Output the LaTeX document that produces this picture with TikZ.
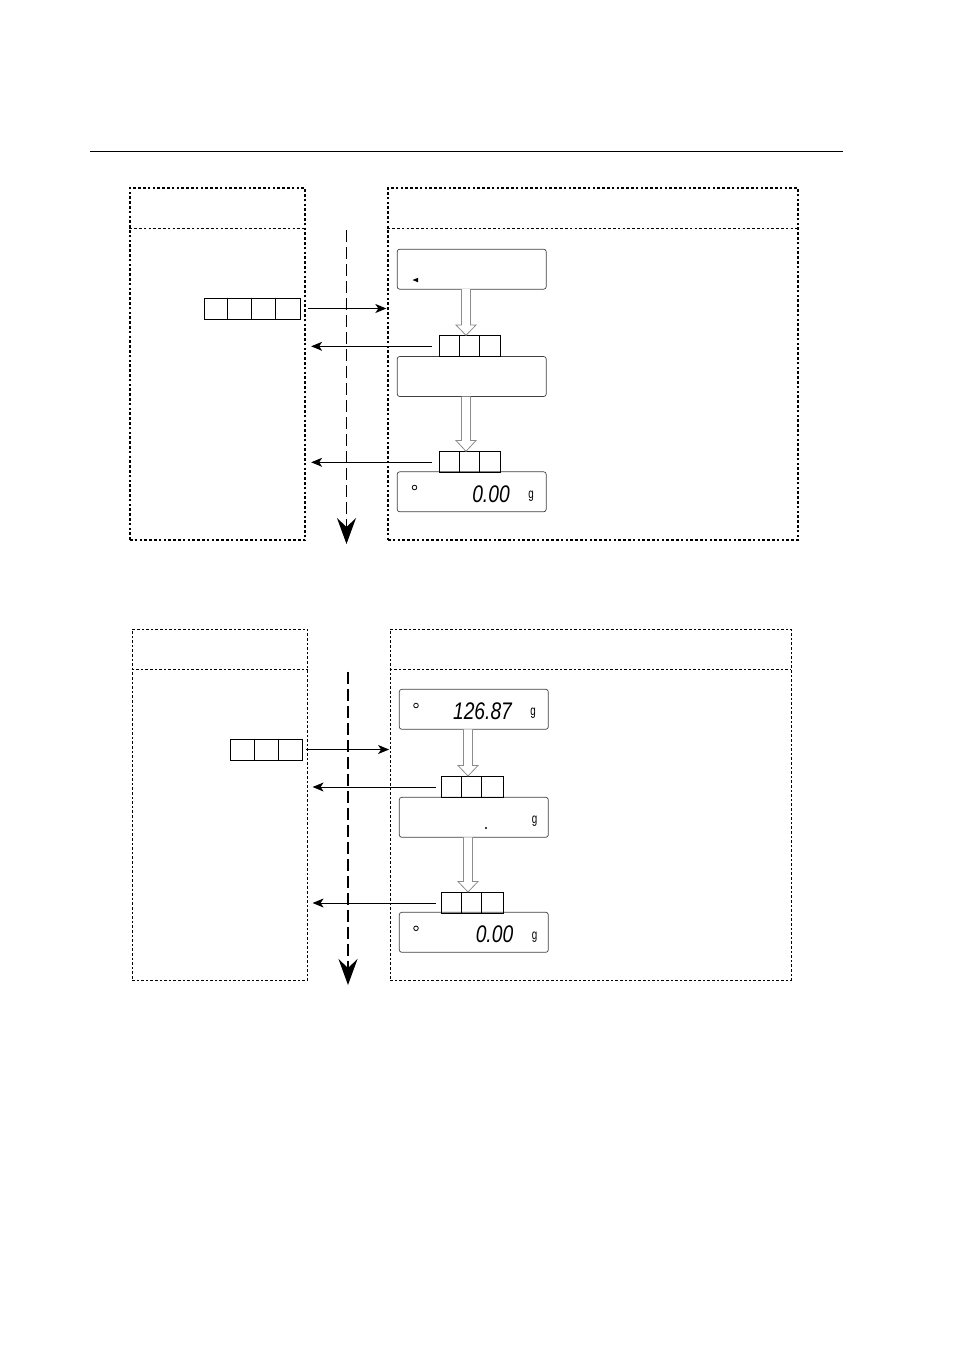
\documentclass[tikz,border=0pt]{standalone}
\usepackage{fontspec}
\newfontfamily\segfont{Liberation Sans}
\usetikzlibrary{arrows.meta,calc}
\tikzset{
  frametop/.style={draw, line width=1.3pt, dash pattern=on 2.6pt off 2.2pt, inner sep=0pt},
  framebot/.style={draw, line width=0.8pt, dash pattern=on 2.6pt off 2pt, inner sep=0pt},
  disp/.style={draw=black!75, rounded corners=2.5pt, line width=0.7pt, minimum width=149pt, minimum height=40pt, inner sep=0pt},
  keyframe/.style={draw, line width=1pt, inner sep=0pt, minimum height=21pt, anchor=north west},
  conn/.style={line width=1pt, -{Stealth[length=11pt,width=9pt,inset=3pt]}},
  flow/.style={line width=1.1pt, dash pattern=on 12pt off 5pt, -{Stealth[length=26pt,width=19pt,inset=9pt]}},
  hollow/.style={draw=black!45, fill=white, line width=0.8pt, line join=miter},
  seg/.style={font=\segfont\itshape\fontsize{24}{24}\selectfont, xscale=0.8, inner sep=0pt},
  unit/.style={font=\segfont\fontsize{14}{14}\selectfont, xscale=0.7, inner sep=0pt},
  lamp/.style={draw, line width=0.8pt},
}
\newcommand\keybox[5]{% name, left, top, width, divider offsets
  \node[keyframe, minimum width=#4pt] (#1) at (#2,#3) {};
  \foreach \d in {#5} \draw[line width=1pt] ($(#1.north west)+(\d,0)$) -- ($(#1.south west)+(\d,0)$);
}
\newcommand\hollowarr[4]{% x, top, bottom, head start
  \draw[hollow] (#1-4.5,#2) -- (#1-4.5,#4) -- (#1-10,#4) -- (#1,#3) -- (#1+10,#4) -- (#1+4.5,#4) -- (#1+4.5,#2);
}
\begin{document}
\begin{tikzpicture}[x=1pt,y=-1pt]
\useasboundingbox (0,0) rectangle (954,1350);
% header rule
\draw[line width=0.8pt] (90,151) -- (843,151);

% ================= top section =================
\node[frametop, minimum width=175pt, minimum height=352pt] (lt) at (217.5,364) {};
\node[frametop, minimum width=410pt, minimum height=352pt] (rt) at (593,364) {};
\draw[frametop] (lt.west |- 0,228.3) -- (lt.east |- 0,228.3);
\draw[frametop] (rt.west |- 0,228.3) -- (rt.east |- 0,228.3);
\coordinate (ft1) at (346.5,230);
\coordinate (ft2) at (346.5,544);
\draw[flow] (ft1) -- (ft2);

\node[disp] (d1) at (471.7,269.2) {};
\fill (412.5,280) -- (418,277.8) -- (418,282.2) -- cycle;
\node[disp] (d2) at (471.7,376.5) {};
\node[disp] (d3) at (471.7,491.8) {};
\draw[lamp] (414.5,487.5) circle (2.3);
\node[seg] (t3) at (491,494) {0.00};
\node[unit] (u3) at (531,496.5) {g};

\keybox{k1}{203.6}{297.5}{96.4}{24.1,48.2,72.3}
\keybox{k2}{438.6}{335.3}{61.6}{21,41}
\keybox{k3}{438.6}{451.3}{61.6}{21,41}

\hollowarr{466}{289}{335.3}{325}
\hollowarr{466}{396.5}{451.3}{440.5}

\draw[conn] ([xshift=6.8pt]k1.east) -- ([xshift=-1pt]k1.east -| rt.west);
\draw[conn] ([xshift=-7pt]k2.west) -- ([xshift=5.5pt]k2.west -| lt.east);
\draw[conn] ([xshift=-7pt]k3.west) -- ([xshift=5.5pt]k3.west -| lt.east);

% ================= bottom section =================
\node[framebot, minimum width=175.7pt, minimum height=350.7pt] (lb) at (219.85,804.65) {};
\node[framebot, minimum width=401pt, minimum height=350.7pt] (rb) at (590.5,804.65) {};
\draw[framebot] (lb.west |- 0,669.3) -- (lb.east |- 0,669.3);
\draw[framebot] (rb.west |- 0,669.3) -- (rb.east |- 0,669.3);
\coordinate (fb1) at (348,671.5);
\coordinate (fb2) at (348,985);
\draw[flow] (fb1) -- (fb2);

\node[disp] (dA) at (473.8,709.3) {};
\draw[lamp] (416,705.5) circle (2.3);
\node[seg] (tA) at (482.5,711) {126.87};
\node[unit] (uA) at (533,713.5) {g};
\node[disp] (dB) at (473.8,817.3) {};
\fill (486,828) circle (1.2);
\node[unit] (uB) at (534.5,821) {g};
\node[disp] (dC) at (473.8,932.3) {};
\draw[lamp] (416,928.3) circle (2.3);
\node[seg] (tC) at (494.5,934) {0.00};
\node[unit] (uC) at (534.5,937) {g};

\keybox{kb1}{229.5}{738.5}{72.8}{24.5,49}
\keybox{kb2}{440.8}{776}{62.2}{20.2,40.7}
\keybox{kb3}{440.8}{892}{62.2}{20.2,40.7}

\hollowarr{468}{729.3}{776}{765.5}
\hollowarr{468}{837.3}{892}{881.5}

\draw[conn] ([xshift=3pt]kb1.east) -- ([xshift=-0.5pt]kb1.east -| rb.west);
\draw[conn] ([xshift=-5pt]kb2.west) -- ([xshift=4.5pt]kb2.west -| lb.east);
\draw[conn] ([xshift=-5pt]kb3.west) -- ([xshift=4.5pt]kb3.west -| lb.east);
\end{tikzpicture}
\end{document}
